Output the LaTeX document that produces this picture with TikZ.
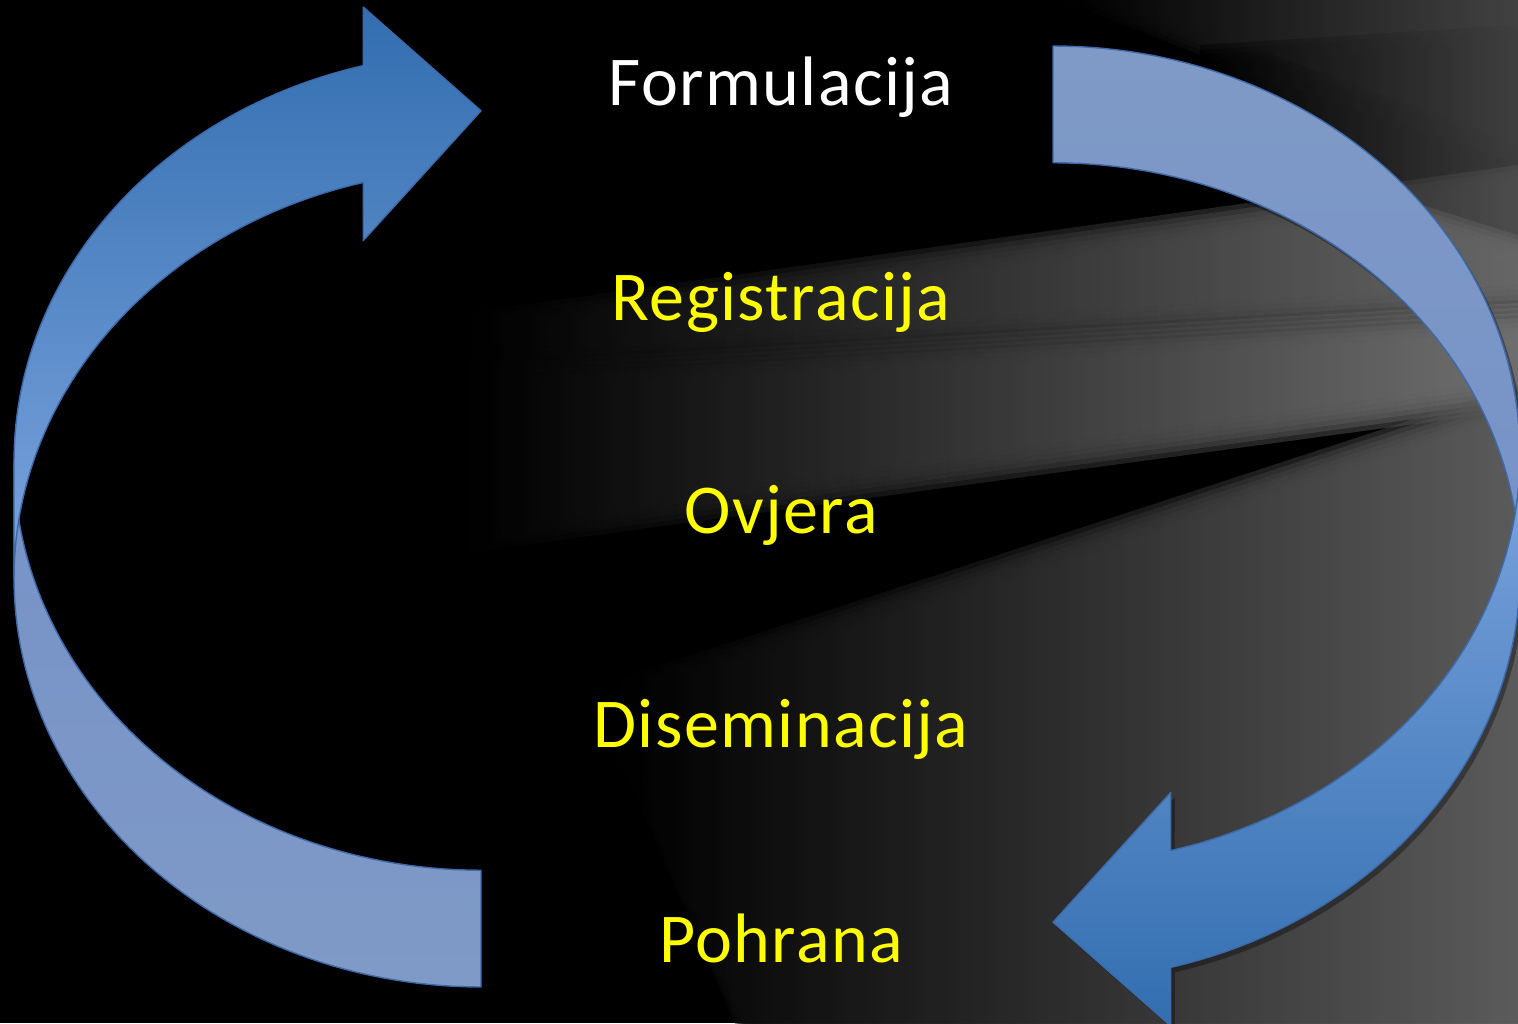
\documentclass[tikz,border=0pt]{standalone}
\usepackage{fontspec}
\setmainfont{Carlito}[LetterSpace=2.0]
\definecolor{frontdark}{RGB}{50,110,176}
\definecolor{frontlight}{RGB}{124,164,222}
\definecolor{backblue}{RGB}{127,154,198}
\definecolor{backtop}{RGB}{118,146,200}
\definecolor{edgeblue}{RGB}{62,106,170}
\definecolor{lbl}{RGB}{255,255,0}
\tikzset{
  bandedge/.style={draw=edgeblue, line width=0.7pt, line join=round},
  label/.style={font=\fontsize{35}{42}\selectfont, anchor=base, inner sep=0pt},
  ray/.style={opacity=0.25, left color=black},
  shadowband/.style={fill=black, opacity=0.35}
}
\begin{document}
\begin{tikzpicture}[x=0.5pt, y=0.5pt]
\useasboundingbox (0,0) rectangle (1518,1023);
\clip (0,0) rectangle (1518,1023);
% background
\fill[black] (0,0) rectangle (1518,1023);
\foreach \s in {-15,-10,-5,0,5,10,15} {
  % upper light band
  \fill[ray, right color={rgb,255:red,185;green,185;blue,185}, shift={(0,\s)}]
    (450,693) -- (1518,843) -- (1518,723) -- (450,661) -- cycle;
  % middle light band
  \fill[ray, right color={rgb,255:red,200;green,200;blue,200}, shift={(0,\s)}]
    (450,643) -- (1518,705) -- (1518,628) -- (450,483) -- cycle;
  % lower broad region
  \fill[ray, right color={rgb,255:red,165;green,165;blue,165}, shift={(0,\s)}]
    (600,323) -- (1518,623) -- (1518,-20) -- (750,-20) -- cycle;
  % top-right streaks
  \fill[ray, right color={rgb,255:red,120;green,120;blue,120}, shift={(0,\s)}]
    (1050,1043) -- (1518,1043) -- (1518,863) -- (1300,943) -- cycle;
  \fill[ray, right color={rgb,255:red,110;green,110;blue,110}, shift={(0,\s)}]
    (1200,963) -- (1518,983) -- (1518,773) -- (1200,873) -- cycle;
}
% ---------- left curved arrow ----------
% back band
\fill[bandedge, top color=backtop, bottom color=backblue]
  (14,444.9) -- plot[domain=180:270, samples=60, variable=\t] ({481+467*cos(\t)},{444.9+408.9*sin(\t)})
  -- (481,152.75)
  -- plot[domain=270:180, samples=60, variable=\t] ({481+467*cos(\t)},{561.65+408.9*sin(\t)})
  -- cycle;
% front band with head
\fill[bandedge, top color=frontdark, bottom color=frontlight]
  (14,444.9) -- plot[domain=180:104.6, samples=60, variable=\t] ({481+467*cos(\t)},{444.9+408.9*sin(\t)})
  -- (363.25,782.4) -- (481,912.2) -- (363.25,1015.95) -- (363.25,957.35)
  -- plot[domain=104.6:180, samples=60, variable=\t] ({481+467*cos(\t)},{561.65+408.9*sin(\t)})
  -- cycle;
% ---------- right curved arrow ----------
% shadow
\fill[shadowband, shift={(4,-5)}]
  (1520,568.1) -- plot[domain=0:-75.4, samples=60, variable=\t] ({1053+467*cos(\t)},{568.1+408.9*sin(\t)})
  -- (1170.75,230.6) -- (1053,100.8) -- (1170.75,-2.95) -- (1170.75,55.65)
  -- plot[domain=-75.4:90, samples=80, variable=\t] ({1053+467*cos(\t)},{451.35+408.9*sin(\t)})
  -- (1053,977) -- plot[domain=90:0, samples=60, variable=\t] ({1053+467*cos(\t)},{568.1+408.9*sin(\t)}) -- cycle;
% back band
\fill[bandedge, top color=backblue, bottom color=backtop]
  (1520,568.1) -- plot[domain=0:90, samples=60, variable=\t] ({1053+467*cos(\t)},{568.1+408.9*sin(\t)})
  -- (1053,860.25)
  -- plot[domain=90:0, samples=60, variable=\t] ({1053+467*cos(\t)},{451.35+408.9*sin(\t)})
  -- cycle;
% front band with head
\fill[bandedge, top color=frontlight, bottom color=frontdark]
  (1520,568.1) -- plot[domain=0:-75.4, samples=60, variable=\t] ({1053+467*cos(\t)},{568.1+408.9*sin(\t)})
  -- (1170.75,230.6) -- (1053,100.8) -- (1170.75,-2.95) -- (1170.75,55.65)
  -- plot[domain=-75.4:0, samples=60, variable=\t] ({1053+467*cos(\t)},{451.35+408.9*sin(\t)})
  -- cycle;
% ---------- labels ----------
\node[label, text=white] (formulacija) at (781,917) {Formulacija};
\node[label, text=lbl] (registracija) at (781,702) {Registracija};
\node[label, text=lbl] (ovjera) at (781,489) {Ovjera};
\node[label, text=lbl] (diseminacija) at (781,276) {Diseminacija};
\node[label, text=lbl] (pohrana) at (781,61) {Pohrana};
\end{tikzpicture}
\end{document}
